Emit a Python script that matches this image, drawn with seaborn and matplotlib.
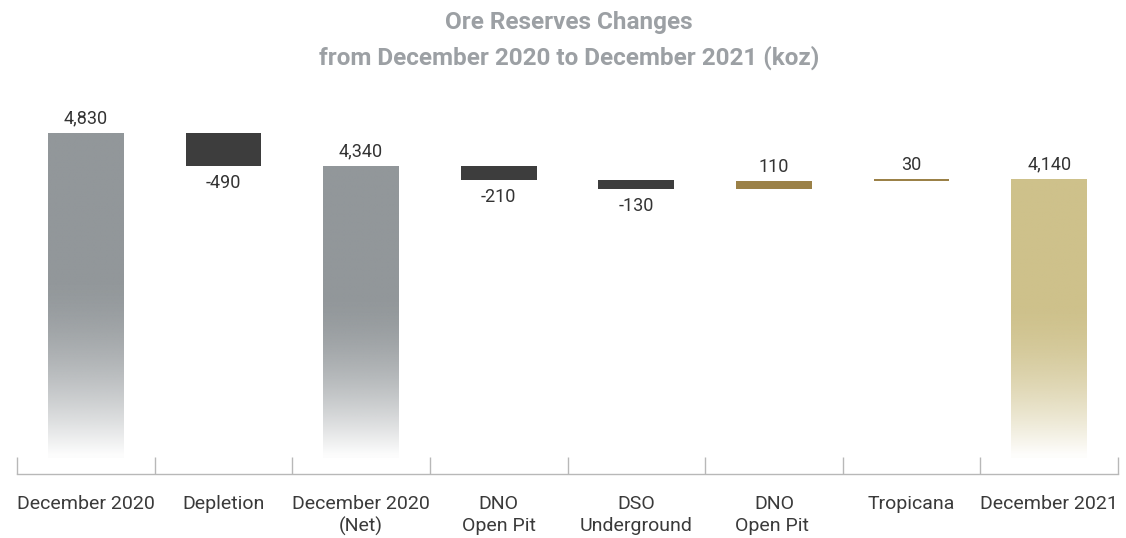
import numpy as np
import pandas as pd
import matplotlib
matplotlib.use('Agg')
import matplotlib.pyplot as plt
import seaborn as sns
from matplotlib.colors import to_rgb

# data
categories = ['December 2020', 'Depletion', 'December 2020\n(Net)', 'DNO\nOpen Pit',
              'DSO\nUnderground', 'DNO\nOpen Pit ', 'Tropicana', 'December 2021']
values = [4830, -490, 4340, -210, -130, 110, 30, 4140]
is_total = [True, False, True, False, False, False, False, True]
value_labels = ['4,830', '-490', '4,340', '-210', '-130', '110', '30', '4,140']

# waterfall spans
bottoms, heights = [], []
running = 0
for v, tot in zip(values, is_total):
    if tot:
        bottoms.append(0)
        heights.append(v)
        running = v
    else:
        lo = min(running, running + v)
        bottoms.append(lo)
        heights.append(abs(v))
        running += v

grey = '#92979a'
gold = '#cec18b'
dark = '#3d3d3d'
bronze = '#9b8147'
colors = []
for i, (v, tot) in enumerate(zip(values, is_total)):
    if tot:
        colors.append(gold if i == len(values) - 1 else grey)
    else:
        colors.append(dark if v < 0 else bronze)

sns.set_theme(style='white')
plt.rcParams['font.family'] = ['Roboto', 'DejaVu Sans']

fig = plt.figure(figsize=(11.26, 5.38), dpi=100)
ax = fig.add_axes([17 / 1126, (538 - 474) / 538, (1118 - 17) / 1126, (474 - 100) / 538])

df = pd.DataFrame({'cat': categories, 'h': heights})
sns.barplot(data=df, x='cat', y='h', ax=ax, width=0.55, palette=colors,
            hue='cat', legend=False, saturation=1)

for i, p in enumerate(ax.patches):
    p.set_y(bottoms[i])
    p.set_height(heights[i])
    p.set_linewidth(0)
    if is_total[i]:
        # vertical fade to white towards the bottom
        p.set_facecolor('none')
        x0 = p.get_x()
        w = p.get_width()
        n = 256
        f = np.linspace(1, 0, n)  # top -> bottom
        t = np.clip(f / 0.55, 0, 1)
        alpha = 1 - (1 - t) ** 1.6
        alpha = np.maximum(alpha, 0.03)
        rgb = np.array(to_rgb(colors[i]))
        img = np.zeros((n, 1, 4))
        img[:, 0, :3] = rgb[None, :]
        img[:, 0, 3] = alpha
        ax.imshow(img, extent=(x0, x0 + w, bottoms[i], bottoms[i] + heights[i]),
                  aspect='auto', zorder=2, interpolation='bilinear')

# value labels
for i, (v, lab) in enumerate(zip(values, value_labels)):
    top = bottoms[i] + heights[i]
    if v < 0:
        ax.annotate(lab, (i, bottoms[i]), xytext=(0, -6), textcoords='offset points',
                    ha='center', va='top', fontsize=13, color='#333333')
    else:
        ax.annotate(lab, (i, top), xytext=(0, 4), textcoords='offset points',
                    ha='center', va='bottom', fontsize=13, color='#333333')

ax.set_xlim(-0.5, len(categories) - 0.5)
ax.set_ylim(-240, 5320)
ax.set_xlabel('')
ax.set_ylabel('')
ax.set_yticks([])
ax.set_xticks(range(len(categories)))
ax.set_xticklabels(categories, fontsize=14, color='#3a3a3a', linespacing=1.3)
ax.set_xticks(np.arange(-0.5, len(categories)), minor=True)
ax.tick_params(axis='x', which='major', length=0, pad=15)
ax.tick_params(axis='x', which='minor', direction='in', length=12, width=1,
               color='#b8b8b8', bottom=True)
for s in ['top', 'right', 'left']:
    ax.spines[s].set_visible(False)
ax.spines['bottom'].set_color('#b8b8b8')
ax.spines['bottom'].set_linewidth(1)
ax.set_facecolor('white')

fig.text(569 / 1126, 1 - 22 / 538, 'Ore Reserves Changes', ha='center', va='center',
         fontsize=17.5, fontweight='bold', color='#9ca0a4')
fig.text(569 / 1126, 1 - 58 / 538, 'from December 2020 to December 2021 (koz)',
         ha='center', va='center', fontsize=17.5, fontweight='bold', color='#9ca0a4')

fig.savefig('out.png', dpi=100, facecolor='white')
